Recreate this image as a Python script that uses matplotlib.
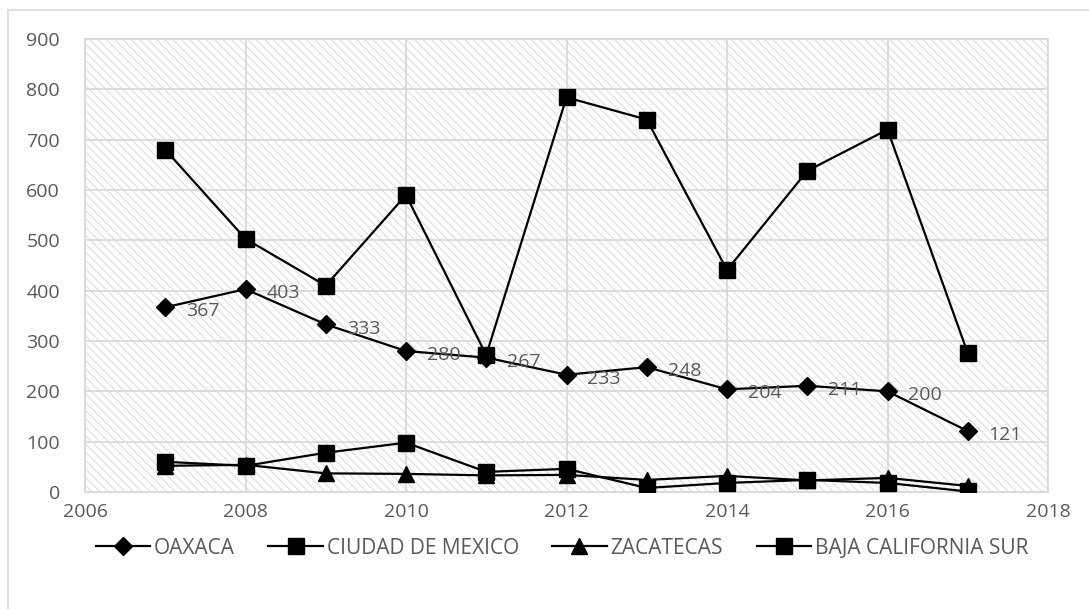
import matplotlib.pyplot as plt
from matplotlib.patches import Rectangle

years = [2007, 2008, 2009, 2010, 2011, 2012, 2013, 2014, 2015, 2016, 2017]
oaxaca = [367, 403, 333, 280, 267, 233, 248, 204, 211, 200, 121]
cdmx = [680, 503, 410, 590, 272, 784, 740, 441, 638, 720, 276]
zacatecas = [52, 54, 37, 36, 33, 34, 24, 32, 23, 28, 12]
bcs = [60, 52, 78, 98, 40, 46, 8, 18, 24, 18, 1]

plt.rcParams['font.family'] = ['Open Sans', 'DejaVu Sans']
plt.rcParams['hatch.linewidth'] = 0.8

fig = plt.figure(figsize=(10.89, 6.09), dpi=100)
ax = fig.add_axes([85 / 1089, 1 - 492 / 609, (1048 - 85) / 1089, (492 - 39) / 609])

# striped plot area
ax.add_patch(Rectangle((0, 0), 1, 1, transform=ax.transAxes, facecolor='white',
                       edgecolor='#dedede', linewidth=0, hatch='\\\\\\\\', zorder=0))

# outer chart frame
fig.patches.append(Rectangle((8 / 1089, -0.01), 1.1, 1 - 10 / 609 + 0.01,
                             transform=fig.transFigure, fill=False,
                             edgecolor='#d9d9d9', linewidth=1.2))

style = dict(color='black', linewidth=1.6)
ax.plot(years, oaxaca, marker='D', markersize=9, label='OAXACA', zorder=4, **style)
ax.plot(years, cdmx, marker='s', markersize=12, label='CIUDAD DE MEXICO', zorder=4, **style)
ax.plot(years, zacatecas, marker='^', markersize=11, label='ZACATECAS', zorder=3, **style)
ax.plot(years, bcs, marker='s', markersize=12, label='BAJA CALIFORNIA SUR', zorder=4, **style)

for x, y in zip(years, oaxaca):
    ax.annotate(str(y), (x, y), xytext=(15, -3), textcoords='offset points',
                ha='left', va='center', fontsize=14, color='#595959', zorder=5)

ax.set_xlim(2006, 2018)
ax.set_ylim(0, 900)
ax.set_xticks(range(2006, 2019, 2))
ax.set_yticks(range(0, 901, 100))
ax.grid(True, color='#d9d9d9', linewidth=1.3, zorder=1)
ax.set_axisbelow(True)
for s in ax.spines.values():
    s.set_color('#d9d9d9')
    s.set_linewidth(1.3)
ax.tick_params(length=0, labelsize=14, labelcolor='#595959')
ax.tick_params(axis='y', pad=18)
ax.tick_params(axis='x', pad=8)

fig.legend(loc='center', bbox_to_anchor=(562 / 1089, 1 - 548 / 609), ncol=4, frameon=False,
           prop={'family': ['Liberation Sans Narrow', 'Open Sans'], 'size': 15},
           labelcolor='#595959', handlelength=2.6, columnspacing=1.6,
           handletextpad=0.2)

fig.savefig('out.png', dpi=100)
